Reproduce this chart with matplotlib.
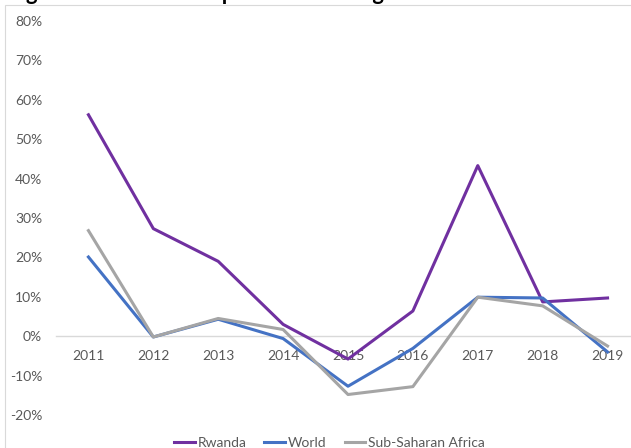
import numpy as np
import matplotlib
matplotlib.use("Agg")
import matplotlib.pyplot as plt
from matplotlib.patches import Rectangle

plt.rcParams['font.family'] = ['Lato', 'DejaVu Sans']

years = ['2011', '2012', '2013', '2014', '2015', '2016', '2017', '2018', '2019']
rwanda = [0.562, 0.273, 0.190, 0.030, -0.058, 0.064, 0.433, 0.087, 0.097]
world = [0.201, -0.002, 0.043, -0.006, -0.127, -0.031, 0.099, 0.097, -0.040]
ssa = [0.268, -0.002, 0.045, 0.017, -0.148, -0.128, 0.099, 0.077, -0.025]

title = "Figure 6: Rwanda's imports vs. world growth"

fig = plt.figure(figsize=(6.31, 4.48), dpi=100)

# chart area frame
fig.patches.append(Rectangle((5 / 631, -0.1), 1.1, 1 - 5.5 / 448 + 0.1,
                             transform=fig.transFigure, fill=False,
                             edgecolor='#D9D9D9', lw=0.8))

fig.text(8 / 631, 1.0, title, fontsize=15.8, fontweight='bold', color='black',
         ha='left', va='baseline')

ax = fig.add_axes([56 / 631, 1 - 415 / 448, 584 / 631, (415 - 21) / 448])
x = np.arange(len(years))
ax.plot(x, rwanda, color='#7030A0', lw=2.2, label='Rwanda')
ax.plot(x, world, color='#4472C4', lw=2.2, label='World')
ax.plot(x, ssa, color='#A5A5A5', lw=2.2, label='Sub-Saharan Africa')

ax.set_xlim(-0.5, len(years) - 0.5)
ax.set_ylim(-0.2, 0.8)
ax.set_yticks(np.arange(-0.2, 0.81, 0.1))
ax.set_yticklabels([f'{int(round(v * 100))}%' for v in np.arange(-0.2, 0.81, 0.1)])
ax.set_xticks(x)
ax.set_xticklabels(years)

for s in ['top', 'right', 'left']:
    ax.spines[s].set_visible(False)
ax.spines['bottom'].set_position(('data', 0))
ax.spines['bottom'].set_color('#D9D9D9')
ax.spines['bottom'].set_linewidth(1.0)
ax.spines['bottom'].set_zorder(0)

ax.tick_params(axis='both', length=0, labelsize=10, labelcolor='#595959')
ax.tick_params(axis='y', pad=10)
ax.tick_params(axis='x', pad=10)
ax.patch.set_alpha(0)

fig.legend(loc='center', bbox_to_anchor=(0.522, 0.012), ncol=3, frameon=False,
           fontsize=10, labelcolor='#595959', handlelength=1.5,
           handletextpad=0.2, columnspacing=1.3)

fig.savefig('out.png', dpi=100)
